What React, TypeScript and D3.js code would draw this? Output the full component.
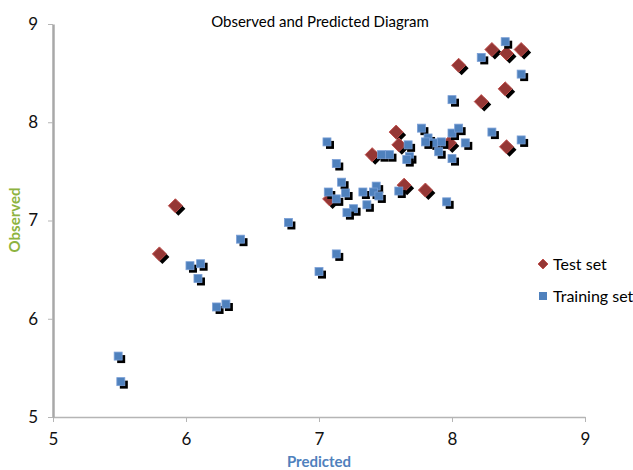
import React, { useEffect, useRef } from 'react';
import * as d3 from 'd3';

// test set (red diamonds)
const testPredicted = [5.92, 5.80, 7.08, 7.58, 7.60, 7.40, 7.64, 7.80, 8.30, 8.41, 8.52, 8.05, 8.40, 8.22, 7.98, 8.41];
const testObserved = [7.15, 6.66, 7.22, 7.90, 7.77, 7.67, 7.36, 7.31, 8.74, 8.70, 8.74, 8.58, 8.34, 8.21, 7.79, 7.75];

// training set (blue squares)
const trainPredicted = [
  5.49, 5.51, 6.03, 6.11, 6.09, 6.23, 6.30, 6.41, 6.77, 7.00, 7.13,
  7.06, 7.13, 7.17, 7.07, 7.20, 7.13, 7.26, 7.21, 7.33, 7.36, 7.43, 7.41, 7.45, 7.60, 7.96,
  7.47, 7.53, 7.67, 7.68, 7.66, 7.77, 7.82, 7.86, 7.80, 7.92, 7.90, 8.00, 8.05, 8.10, 8.00, 8.30, 8.52,
  8.00, 8.22, 8.40, 8.52,
];
const trainObserved = [
  5.62, 5.36, 6.54, 6.56, 6.41, 6.12, 6.15, 6.81, 6.98, 6.48, 6.66,
  7.80, 7.58, 7.39, 7.29, 7.28, 7.22, 7.12, 7.08, 7.29, 7.16, 7.35, 7.29, 7.25, 7.30, 7.19,
  7.67, 7.67, 7.77, 7.65, 7.62, 7.94, 7.84, 7.79, 7.80, 7.80, 7.70, 7.89, 7.94, 7.79, 7.63, 7.90, 7.82,
  8.23, 8.66, 8.82, 8.49,
];

const xTicks = [5, 6, 7, 8, 9];
const yTicks = [5, 6, 7, 8, 9];
const seriesNames = ['Test set', 'Training set'];

const W = 633;
const H = 470;
const FONT = 'Lato, "Open Sans", sans-serif';

export default function App() {
  const ref = useRef<SVGSVGElement>(null);

  useEffect(() => {
    const svg = d3.select(ref.current);
    svg.selectAll('*').remove();

    const x = d3.scaleLinear().domain([5, 9]).range([53, 585]);
    const y = d3.scaleLinear().domain([5, 9]).range([417, 24]);

    // axes
    const xAxis = svg.append('g')
      .attr('transform', `translate(0,${y(5)})`)
      .call(d3.axisBottom(x).tickValues(xTicks).tickFormat(d3.format('d')).tickSize(5).tickPadding(8).tickSizeOuter(0));
    const yAxis = svg.append('g')
      .attr('transform', `translate(${x(5)},0)`)
      .call(d3.axisLeft(y).tickValues(yTicks).tickFormat(d3.format('d')).tickSize(5).tickPadding(10).tickSizeOuter(0));

    xAxis.select('.domain').attr('stroke', '#b5b5b5').attr('stroke-width', 1.5);
    yAxis.select('.domain').attr('stroke', '#a8a8a8').attr('stroke-width', 2.5);
    svg.selectAll('.tick line').attr('stroke', '#b5b5b5');
    svg.selectAll('.tick text')
      .attr('font-family', FONT).attr('font-size', 17).attr('fill', '#111');
    xAxis.selectAll('.tick text').attr('dy', '0.9em');

    // test set: diamonds with black shadow
    const d = 7;
    const diamond = (cx: number, cy: number) =>
      `M${cx},${cy - d}L${cx + d},${cy}L${cx},${cy + d}L${cx - d},${cy}Z`;
    const testG = svg.append('g');
    testPredicted.forEach((p, i) => {
      const cx = x(p), cy = y(testObserved[i]);
      testG.append('path').attr('d', diamond(cx + 3, cy + 3)).attr('fill', '#000');
      testG.append('path').attr('d', diamond(cx, cy))
        .attr('fill', '#953735').attr('stroke', '#c0504d').attr('stroke-width', 1);
    });

    // training set: squares with black shadow
    const s = 8;
    const trainG = svg.append('g');
    trainPredicted.forEach((p, i) => {
      const cx = x(p), cy = y(trainObserved[i]);
      trainG.append('rect').attr('x', cx - s / 2 + 3).attr('y', cy - s / 2 + 3)
        .attr('width', s).attr('height', s).attr('fill', '#000');
      trainG.append('rect').attr('x', cx - s / 2).attr('y', cy - s / 2)
        .attr('width', s).attr('height', s)
        .attr('fill', '#4f81bd').attr('stroke', '#7a9fd6').attr('stroke-width', 0.8);
    });

    // title
    svg.append('text')
      .attr('x', 320).attr('y', 27)
      .attr('text-anchor', 'middle')
      .attr('font-family', FONT).attr('font-size', 15).attr('fill', '#000')
      .text('Observed and Predicted Diagram');

    // axis titles
    svg.append('text')
      .attr('x', 319).attr('y', 467)
      .attr('text-anchor', 'middle')
      .attr('font-family', FONT).attr('font-size', 15).attr('font-weight', 'bold')
      .attr('fill', '#4f81bd')
      .text('Predicted');
    svg.append('text')
      .attr('transform', 'translate(20,220) rotate(-90)')
      .attr('text-anchor', 'middle')
      .attr('font-family', FONT).attr('font-size', 15).attr('font-weight', 'bold')
      .attr('fill', '#8db340')
      .text('Observed');

    // legend
    const leg = svg.append('g');
    leg.append('path')
      .attr('d', 'M543,259L548,264L543,269L538,264Z').attr('fill', '#953735').attr('stroke', '#c0504d');
    leg.append('rect').attr('x', 539).attr('y', 292).attr('width', 8).attr('height', 8)
      .attr('fill', '#4f81bd');
    seriesNames.forEach((name, i) => {
      leg.append('text')
        .attr('x', 553).attr('y', 270 + i * 32)
        .attr('font-family', FONT).attr('font-size', 16).attr('fill', '#000')
        .text(name);
    });
  }, []);

  return (
    <svg ref={ref} width={W} height={H}
      style={{ position: 'absolute', left: 0, top: 0, background: '#fff' }} />
  );
}
